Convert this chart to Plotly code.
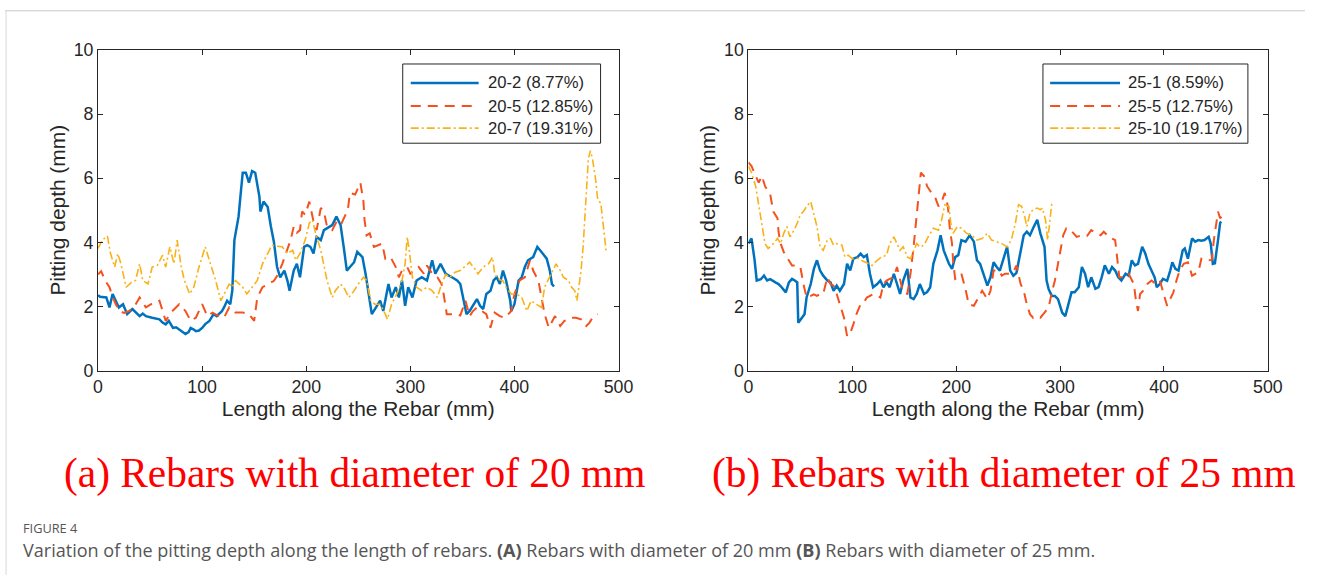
import plotly.graph_objects as go

# ---- 20 mm rebars: length along rebar (mm) and pitting depth (mm) ----
x_20_2 = [0, 2, 8, 11, 14, 17, 20, 24, 28, 33, 37, 40, 43, 46, 52, 56, 59, 62, 65, 68, 72, 75, 78, 81, 84, 87, 89, 92, 94, 97, 100, 103, 107, 111, 114, 116, 119, 121, 124, 127, 129, 131, 135, 137, 139, 142, 145, 148, 151, 155, 156, 159, 163, 166, 169, 172, 175, 179, 182, 184, 188, 191, 194, 198, 201, 204, 207, 210, 214, 217, 220, 225, 229, 233, 236, 239, 242, 246, 249, 254, 257, 260, 263, 266, 271, 274, 279, 282, 286, 289, 292, 295, 298, 302, 306, 311, 316, 321, 324, 329, 334, 340, 345, 348, 351, 354, 357, 361, 364, 367, 370, 373, 377, 380, 383, 386, 389, 392, 396, 397, 400, 404, 407, 410, 413, 418, 422, 426, 431, 434, 436, 438]
y_20_2 = [2.35, 2.3, 2.28, 1.97, 2.39, 2.18, 1.97, 2.07, 1.76, 1.92, 1.8, 1.7, 1.78, 1.7, 1.65, 1.62, 1.6, 1.5, 1.44, 1.55, 1.33, 1.35, 1.28, 1.2, 1.14, 1.2, 1.33, 1.28, 1.23, 1.25, 1.33, 1.45, 1.55, 1.76, 1.7, 1.76, 1.85, 1.97, 2.18, 2.07, 2.5, 4.07, 4.8, 5.5, 6.17, 6.17, 5.86, 6.22, 6.17, 5.43, 4.96, 5.27, 5.1, 4.5, 4.0, 3.23, 2.91, 3.12, 2.8, 2.49, 3.12, 3.33, 2.91, 3.86, 3.91, 3.86, 3.65, 4.17, 4.07, 4.38, 4.44, 4.54, 4.8, 4.54, 3.86, 3.12, 3.23, 3.38, 3.7, 3.54, 3.02, 2.39, 1.76, 1.92, 2.18, 1.86, 2.7, 2.28, 2.6, 2.28, 2.81, 2.02, 2.6, 2.28, 2.81, 2.91, 2.81, 3.44, 3.02, 3.33, 3.02, 2.91, 2.81, 2.7, 2.18, 1.76, 1.86, 2.07, 2.23, 2.02, 1.92, 2.39, 2.49, 2.81, 2.91, 2.7, 3.12, 2.81, 2.18, 1.86, 2.07, 2.81, 2.91, 3.23, 3.44, 3.54, 3.86, 3.7, 3.49, 3.12, 2.7, 2.62]

x_20_5 = [0, 3, 7, 11, 14, 17, 21, 25, 30, 35, 40, 46, 51, 55, 59, 62, 65, 70, 74, 78, 84, 89, 94, 100, 105, 110, 116, 121, 126, 132, 139, 145, 150, 153, 158, 164, 169, 172, 177, 181, 185, 188, 191, 194, 196, 199, 203, 207, 210, 214, 217, 220, 225, 230, 234, 240, 242, 247, 249, 252, 255, 256, 258, 261, 265, 270, 273, 276, 281, 286, 289, 292, 297, 300, 305, 308, 313, 316, 321, 326, 330, 332, 335, 340, 343, 348, 353, 357, 360, 364, 369, 373, 377, 381, 386, 391, 397, 400, 405, 410, 415, 418, 423, 426, 429, 433, 439, 444, 448, 455, 459, 464, 469, 472, 475, 480]
y_20_5 = [3.0, 3.1, 2.8, 2.6, 2.3, 2.07, 1.85, 1.8, 1.86, 2.0, 2.28, 1.97, 2.07, 2.1, 2.18, 1.86, 1.55, 1.81, 1.95, 2.07, 1.86, 1.55, 1.65, 2.07, 1.7, 1.81, 1.7, 1.65, 1.97, 1.81, 1.81, 1.76, 1.55, 2.28, 2.6, 2.7, 2.8, 2.95, 3.33, 3.7, 4.07, 4.49, 4.3, 4.38, 4.96, 4.86, 5.27, 4.65, 4.38, 5.07, 4.96, 4.49, 4.38, 4.7, 4.6, 5.02, 5.54, 5.49, 5.65, 5.86, 5.27, 4.7, 4.22, 4.28, 3.86, 3.91, 3.96, 3.49, 3.54, 3.23, 2.91, 3.12, 3.23, 3.02, 3.17, 3.23, 3.02, 3.28, 3.02, 2.91, 2.7, 2.39, 1.76, 1.76, 1.76, 1.72, 2.18, 1.7, 1.85, 1.97, 1.86, 1.76, 1.34, 1.81, 1.7, 1.65, 1.86, 2.39, 2.81, 2.91, 3.44, 3.12, 2.81, 2.28, 1.76, 1.34, 1.7, 1.39, 1.55, 1.65, 1.65, 1.6, 1.39, 1.49, 1.65, 1.76]

x_20_7 = [0, 4, 9, 12, 16, 19, 22, 27, 32, 36, 40, 43, 48, 52, 57, 62, 65, 69, 73, 76, 80, 83, 88, 92, 97, 103, 108, 113, 118, 121, 126, 129, 132, 139, 143, 148, 153, 158, 163, 167, 172, 177, 182, 187, 190, 194, 199, 203, 206, 209, 214, 217, 220, 225, 228, 233, 236, 241, 246, 250, 255, 258, 262, 266, 271, 276, 278, 282, 287, 292, 295, 297, 299, 302, 306, 311, 316, 321, 326, 330, 334, 338, 343, 348, 353, 357, 362, 365, 370, 375, 379, 381, 384, 389, 392, 397, 402, 407, 412, 416, 421, 426, 429, 432, 437, 440, 444, 447, 452, 455, 458, 460, 461, 464, 466, 468, 471, 473, 475, 478, 480, 483, 485, 487, 488]
y_20_7 = [3.81, 4.07, 4.2, 3.65, 3.23, 3.65, 3.33, 2.6, 2.75, 2.81, 3.33, 2.81, 2.7, 3.23, 3.28, 3.6, 3.23, 3.86, 3.33, 4.07, 3.23, 2.81, 2.39, 2.6, 3.23, 3.86, 3.33, 2.81, 2.18, 2.39, 2.7, 2.6, 2.81, 2.6, 2.39, 2.6, 2.81, 3.33, 3.65, 3.91, 3.88, 3.86, 3.65, 3.75, 3.44, 3.65, 4.07, 4.6, 4.7, 4.28, 3.75, 3.23, 2.81, 2.28, 2.49, 2.7, 2.6, 2.28, 2.49, 2.7, 2.91, 2.81, 2.18, 2.07, 2.07, 1.76, 1.6, 2.07, 2.39, 2.81, 3.33, 4.17, 3.75, 2.91, 2.6, 2.49, 2.6, 2.49, 2.28, 2.7, 3.0, 2.91, 3.07, 3.12, 3.28, 3.38, 3.17, 3.02, 3.23, 3.33, 3.54, 3.02, 2.86, 2.8, 2.6, 2.39, 2.39, 2.28, 1.86, 2.18, 2.07, 1.97, 2.6, 2.81, 3.12, 3.33, 3.12, 2.91, 2.81, 2.6, 2.49, 2.18, 2.39, 3.12, 3.86, 5.12, 6.6, 6.86, 6.6, 5.96, 5.33, 5.22, 4.6, 3.86, 3.75]

# ---- 25 mm rebars ----
x_25_1 = [0, 3, 6, 8, 12, 15, 18, 21, 26, 29, 32, 36, 39, 42, 45, 47, 48, 52, 54, 56, 60, 63, 66, 69, 72, 76, 79, 82, 85, 88, 92, 95, 98, 101, 105, 108, 111, 114, 117, 120, 124, 127, 130, 133, 136, 140, 143, 146, 149, 153, 156, 159, 162, 165, 169, 172, 175, 178, 182, 185, 188, 193, 196, 199, 202, 205, 209, 213, 217, 220, 223, 226, 230, 233, 236, 239, 242, 246, 249, 252, 255, 258, 262, 265, 268, 271, 274, 278, 281, 285, 287, 289, 292, 295, 298, 302, 305, 308, 311, 314, 318, 321, 324, 327, 330, 334, 337, 340, 343, 347, 350, 353, 356, 359, 363, 366, 369, 372, 375, 379, 382, 385, 388, 391, 393, 396, 399, 403, 406, 408, 411, 414, 418, 420, 423, 427, 430, 433, 436, 439, 443, 445, 447, 449, 452, 454, 455]
y_25_1 = [3.96, 4.12, 3.44, 2.81, 2.85, 2.96, 2.81, 2.85, 2.75, 2.7, 2.6, 2.44, 2.75, 2.86, 2.8, 2.75, 1.49, 1.65, 1.76, 2.28, 2.7, 3.17, 3.44, 3.12, 2.96, 2.81, 2.75, 2.49, 2.65, 2.49, 2.7, 3.33, 3.12, 3.49, 3.54, 3.65, 3.54, 3.6, 3.02, 2.6, 2.7, 2.81, 2.6, 2.75, 2.6, 3.02, 2.7, 2.39, 2.81, 3.17, 2.28, 2.23, 2.39, 2.7, 2.39, 2.45, 2.6, 3.33, 3.75, 4.22, 3.75, 3.33, 3.17, 3.54, 3.6, 4.07, 4.02, 4.22, 4.02, 3.44, 3.33, 3.02, 2.65, 2.91, 3.38, 3.23, 3.12, 3.54, 3.86, 3.12, 2.96, 3.05, 3.75, 4.22, 4.33, 4.22, 4.44, 4.7, 4.28, 3.86, 2.81, 2.54, 2.33, 2.33, 2.23, 1.81, 1.7, 2.07, 2.44, 2.44, 2.6, 3.23, 3.02, 2.6, 2.91, 2.55, 2.6, 2.91, 3.28, 3.02, 3.23, 3.12, 2.91, 2.81, 3.02, 2.96, 3.44, 3.28, 3.33, 3.86, 3.65, 3.33, 3.12, 2.91, 2.6, 2.7, 2.86, 2.8, 3.12, 3.38, 3.17, 3.12, 3.75, 3.81, 3.49, 4.12, 4.02, 4.07, 4.05, 4.07, 4.17, 3.96, 3.33, 3.35, 4.07, 4.6, 4.65]

x_25_5 = [0, 3, 7, 10, 13, 16, 21, 24, 28, 29, 31, 34, 37, 42, 47, 50, 53, 56, 60, 63, 66, 69, 72, 76, 79, 82, 85, 88, 92, 95, 98, 101, 104, 108, 111, 114, 117, 120, 124, 127, 130, 133, 136, 140, 143, 146, 149, 153, 156, 159, 161, 164, 166, 169, 172, 175, 180, 183, 186, 189, 192, 194, 196, 197, 199, 202, 205, 209, 212, 217, 220, 225, 230, 233, 236, 241, 244, 247, 250, 255, 258, 262, 265, 268, 271, 274, 278, 281, 285, 289, 292, 295, 298, 301, 303, 306, 310, 313, 316, 319, 322, 326, 330, 335, 339, 342, 347, 350, 353, 355, 357, 361, 366, 371, 373, 375, 377, 380, 384, 388, 392, 396, 399, 403, 406, 409, 412, 415, 419, 423, 427, 430, 433, 436, 439, 443, 446, 448, 450, 452, 454, 457]
y_25_5 = [6.49, 6.38, 6.07, 5.86, 6.07, 5.75, 5.49, 4.96, 4.75, 4.33, 3.96, 3.7, 3.54, 3.28, 3.28, 3.23, 2.7, 2.28, 2.33, 2.38, 2.33, 2.39, 2.39, 2.91, 2.7, 2.65, 2.39, 2.07, 1.65, 1.07, 1.17, 1.44, 1.76, 2.07, 2.12, 2.28, 2.33, 2.38, 2.33, 2.28, 2.7, 2.81, 2.86, 2.91, 3.23, 2.81, 2.44, 2.39, 3.02, 3.86, 4.49, 5.43, 6.17, 6.07, 5.75, 5.6, 5.38, 5.12, 5.27, 5.54, 5.12, 4.38, 3.96, 3.44, 2.86, 2.91, 3.02, 2.54, 2.07, 2.02, 2.18, 2.49, 2.23, 2.49, 3.12, 3.12, 2.96, 3.02, 3.02, 3.07, 3.28, 2.7, 2.49, 2.07, 1.76, 1.65, 1.7, 1.65, 1.81, 1.97, 2.44, 2.81, 3.33, 3.86, 4.22, 4.44, 4.38, 4.28, 4.17, 4.2, 4.17, 4.2, 4.38, 4.28, 4.22, 4.33, 4.17, 4.12, 4.07, 3.5, 2.91, 2.91, 3.02, 2.7, 2.18, 1.86, 2.39, 2.49, 2.7, 2.81, 2.7, 2.81, 2.49, 2.02, 2.23, 2.44, 2.81, 3.12, 3.33, 3.38, 2.96, 3.02, 3.07, 3.49, 3.44, 3.44, 3.45, 4.07, 4.49, 4.96, 4.75, 4.86]

x_25_10 = [0, 3, 7, 10, 13, 16, 19, 24, 28, 31, 34, 37, 40, 44, 47, 50, 53, 56, 60, 63, 66, 69, 72, 76, 79, 82, 85, 90, 93, 96, 100, 105, 109, 114, 119, 124, 128, 133, 136, 140, 143, 146, 149, 153, 156, 159, 162, 165, 169, 173, 178, 183, 186, 189, 193, 195, 197, 201, 205, 210, 215, 220, 225, 230, 234, 239, 244, 249, 253, 257, 260, 263, 266, 268, 271, 274, 278, 281, 283, 286, 288, 290, 292]
y_25_10 = [6.38, 6.17, 5.75, 5.12, 4.49, 3.96, 3.81, 3.96, 4.12, 3.96, 4.28, 4.49, 4.17, 4.38, 4.6, 4.86, 4.96, 5.12, 5.27, 4.86, 4.49, 3.86, 3.75, 4.07, 4.12, 3.91, 3.96, 3.91, 3.54, 3.6, 3.49, 3.5, 3.44, 3.38, 3.28, 3.44, 3.54, 3.6, 3.96, 4.17, 3.96, 3.75, 3.86, 3.54, 3.49, 3.75, 3.96, 3.85, 3.91, 4.17, 4.44, 4.38, 4.7, 5.17, 5.12, 4.54, 4.28, 4.49, 4.44, 4.28, 4.22, 4.07, 4.12, 4.28, 4.07, 4.02, 3.96, 3.86, 4.07, 4.6, 5.17, 5.12, 4.8, 4.49, 4.91, 5.02, 5.07, 5.02, 5.07, 4.7, 4.07, 4.6, 5.22]

names_20 = ["20-2 (8.77%)", "20-5 (12.85%)", "20-7 (19.31%)"]
names_25 = ["25-1 (8.59%)", "25-5 (12.75%)", "25-10 (19.17%)"]

x_ticks = [0, 100, 200, 300, 400, 500]
y_ticks = [0, 2, 4, 6, 8, 10]

BLUE = "#0072BD"
RED = "#F4511E"
YELLOW = "#F9B217"
AXIS = "#262626"
styles = [
    dict(color=BLUE, width=2.5, dash="solid"),
    dict(color=RED, width=2.0, dash="10px,7px"),
    dict(color=YELLOW, width=1.6, dash="8px,3px,2px,3px"),
]

# layout grid: element positions are given in the 1322x583 frame and mapped
# onto the figure, which sits inside the page body's 8 px margin
BODY = 8
SX, SY = 0.9858, 0.9636
DX, DY = 4.0, -2.5
W, H = 1320, 585


def fx(p):
    """frame x (px) -> paper fraction"""
    return ((p + DX) / SX - BODY) / W


def fy(p):
    """frame y (px) -> paper fraction"""
    return 1 - ((p + DY) / SY - BODY) / H


def fs(size):
    """font size in the frame -> figure font size"""
    return size / SX


fig = go.Figure()

panels = [
    ("x", "y", [(x_20_2, y_20_2), (x_20_5, y_20_5), (x_20_7, y_20_7)], names_20),
    ("x2", "y2", [(x_25_1, y_25_1), (x_25_5, y_25_5), (x_25_10, y_25_10)], names_25),
]
for xa, ya, series, names in panels:
    for (xs, ys), name, st in zip(series, names, styles):
        fig.add_trace(go.Scatter(x=xs, y=ys, mode="lines", name=name, xaxis=xa, yaxis=ya,
                                 line=st, showlegend=False, hoverinfo="skip"))

tick_font = dict(family="Liberation Sans, Arial, sans-serif", size=fs(17.5), color=AXIS)
title_font = dict(family="Liberation Sans, Arial, sans-serif", size=fs(20.6), color=AXIS)
common_x = dict(range=[0, 500], tickvals=x_ticks, ticks="inside", ticklen=5, tickcolor=AXIS,
                showline=True, linecolor=AXIS, linewidth=1, mirror="ticks", showgrid=False,
                zeroline=False, tickfont=tick_font, title=dict(text="Length along the Rebar (mm)",
                font=title_font, standoff=4))
common_y = dict(range=[0, 10], tickvals=y_ticks, ticks="inside", ticklen=5, tickcolor=AXIS,
                showline=True, linecolor=AXIS, linewidth=1, mirror="ticks", showgrid=False,
                zeroline=False, tickfont=tick_font, title=dict(text="Pitting depth (mm)",
                font=title_font, standoff=2))

y_dom = [fy(370), fy(50)]
fig.update_layout(
    width=W, height=H, margin=dict(l=0, r=0, t=0, b=0),
    paper_bgcolor="white", plot_bgcolor="white", showlegend=False,
    xaxis=dict(domain=[fx(97), fx(618)], anchor="y", **common_x),
    yaxis=dict(domain=y_dom, anchor="x", **common_y),
    xaxis2=dict(domain=[fx(748), fx(1268)], anchor="y2", **common_x),
    yaxis2=dict(domain=y_dom, anchor="x2", **common_y),
)

# in-axes legend boxes drawn in axis-domain coordinates
legend_font = dict(family="Liberation Sans, Arial, sans-serif", size=fs(16.4), color=AXIS)
legend_geo = [
    ("x domain", "y domain", 0.5854, 0.9655, 0.6008, 0.7313, 0.7447, names_20),
    ("x2 domain", "y2 domain", 0.567, 0.9615, 0.5808, 0.7154, 0.727, names_25),
]
rows = [0.897, 0.825, 0.756]
for xr, yr, bx0, bx1, lx0, lx1, tx, names in legend_geo:
    fig.add_shape(type="rect", xref=xr, yref=yr, x0=bx0, x1=bx1, y0=0.709, y1=0.956,
                  line=dict(color=AXIS, width=1), fillcolor="white", layer="above")
    for ry, name, st in zip(rows, names, styles):
        fig.add_shape(type="line", xref=xr, yref=yr, x0=lx0, x1=lx1, y0=ry, y1=ry,
                      line=st, layer="above")
        fig.add_annotation(xref=xr, yref=yr, x=tx, y=ry, text=name, showarrow=False,
                           xanchor="left", yanchor="middle", font=legend_font)

# panel captions
cap_font = dict(family="Liberation Serif, Times New Roman, serif", size=fs(40.8), color="#FF0000")
fig.add_annotation(xref="paper", yref="paper", x=fx(354), y=fy(473),
                   text="(a) Rebars with diameter of 20 mm", showarrow=False,
                   xanchor="center", yanchor="middle", font=cap_font)
fig.add_annotation(xref="paper", yref="paper", x=fx(1004), y=fy(473),
                   text="(b) Rebars with diameter of 25 mm", showarrow=False,
                   xanchor="center", yanchor="middle", font=cap_font)

# figure label and caption
fig.add_annotation(xref="paper", yref="paper", x=fx(20), y=fy(527), text="FIGURE 4",
                   showarrow=False, xanchor="left", yanchor="middle",
                   font=dict(family="Open Sans, Noto Sans, sans-serif", size=fs(12.6), color="#555555"))
fig.add_annotation(xref="paper", yref="paper", x=fx(20), y=fy(549),
                   text="Variation of the pitting depth along the length of rebars. <b>(A)</b> Rebars with "
                        "diameter of 20 mm <b>(B)</b> Rebars with diameter of 25 mm.",
                   showarrow=False, xanchor="left", yanchor="middle",
                   font=dict(family="Open Sans, Noto Sans, sans-serif", size=fs(17.8), color="#555555"))

# frame lines of the figure panel
fig.add_shape(type="line", xref="paper", yref="paper", x0=0, x1=1, y0=fy(11), y1=fy(11),
              line=dict(color="#C8C8C8", width=1))
fig.add_shape(type="line", xref="paper", yref="paper", x0=0.0008, x1=0.0008, y0=0, y1=fy(11),
              line=dict(color="#D8D8D8", width=1))

fig.write_html("out.html")
